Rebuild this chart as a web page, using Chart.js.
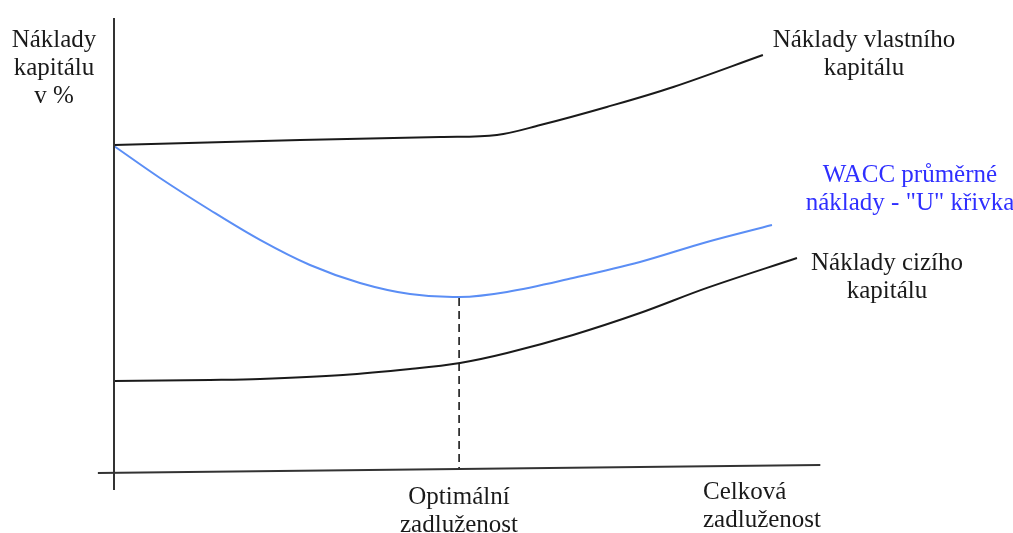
<!DOCTYPE html>
<html lang="cs">
<head>
<meta charset="utf-8">
<title>Náklady kapitálu a zadluženost</title>
<script src="https://cdn.jsdelivr.net/npm/chart.js@4/dist/chart.umd.min.js"></script>
<style>
  html, body { margin: 0; padding: 0; background: #ffffff; }
  #wrap { position: relative; width: 1013px; height: 533px; }
  canvas { display: block; }
</style>
</head>
<body>
<div id="wrap"><canvas id="chart" width="1013" height="533"></canvas></div>
<script>
// Zadluženost (x) a náklady kapitálu v % (y)
const equityDebt = [0, 26.6, 46.6, 54.7, 60.9, 70.4, 79.9, 92.7];
const equityCost = [20.31, 20.62, 20.81, 20.94, 21.56, 22.69, 23.94, 25.94];

const waccDebt = [0, 6.57, 13.71, 20.86, 28.0, 35.14, 42.29, 49.29, 56.14, 65.57, 75.14, 84.71, 94.0];
const waccCost = [20.25, 18.25, 16.25, 14.38, 12.81, 11.69, 11.0, 10.81, 11.13, 12.0, 13.0, 14.25, 15.31];

const debtDebt = [0, 13.71, 20.86, 32.71, 42.29, 49.43, 56.14, 65.57, 75.14, 84.71, 97.57];
const debtCost = [5.56, 5.63, 5.69, 5.94, 6.31, 6.69, 7.31, 8.44, 9.81, 11.38, 13.25];

// optimální zadluženost (minimum WACC)
const optimumDebt = 49.3;
const optimumCost = 10.75;

// osy grafu
const axisYDebt = [0, 0];
const axisYCost = [-1.25, 28.25];
const axisXDebt = [-2.3, 100.9];
const axisXCost = [-0.19, 0.31];

const toPoints = (xs, ys) => xs.map((x, i) => ({ x, y: ys[i] }));

const BLACK = '#1a1a1a';
const BLUE_LINE = '#5b8ef5';
const BLUE_TEXT = '#2f2fff';
const FONT = '25px "Liberation Serif", "Times New Roman", serif';
const LINE_H = 28;

const textBlocks = [
  { lines: ['Náklady', 'kapitálu', 'v %'], x: 54, y: 47, align: 'center', color: BLACK },
  { lines: ['Náklady vlastního', 'kapitálu'], x: 864, y: 47, align: 'center', color: BLACK },
  { lines: ['WACC průměrné', 'náklady - "U" křivka'], x: 910, y: 182, align: 'center', color: BLUE_TEXT },
  { lines: ['Náklady cizího', 'kapitálu'], x: 887, y: 270, align: 'center', color: BLACK },
  { lines: ['Optimální', 'zadluženost'], x: 459, y: 504, align: 'center', color: BLACK },
  { lines: ['Celková', 'zadluženost'], x: 703, y: 499, align: 'left', color: BLACK }
];

const textPlugin = {
  id: 'textBlocks',
  afterDraw(chart) {
    const ctx = chart.ctx;
    ctx.save();
    ctx.font = FONT;
    ctx.textBaseline = 'alphabetic';
    textBlocks.forEach(b => {
      ctx.fillStyle = b.color;
      ctx.textAlign = b.align;
      b.lines.forEach((t, i) => ctx.fillText(t, b.x, b.y + i * LINE_H));
    });
    ctx.restore();
  }
};

const lineDs = (data, color, width, extra) => Object.assign({
  data,
  borderColor: color,
  borderWidth: width,
  pointRadius: 0,
  pointHoverRadius: 0,
  fill: false,
  tension: 0,
  clip: false
}, extra || {});

new Chart(document.getElementById('chart'), {
  type: 'line',
  data: {
    datasets: [
      lineDs(toPoints(axisYDebt, axisYCost), '#333333', 2),
      lineDs(toPoints(axisXDebt, axisXCost), '#333333', 2),
      lineDs([{ x: optimumDebt, y: optimumCost }, { x: optimumDebt, y: 0.05 }], BLACK, 1.6, { borderDash: [8, 5] }),
      lineDs(toPoints(equityDebt, equityCost), BLACK, 2, { tension: 0.35 }),
      lineDs(toPoints(waccDebt, waccCost), BLUE_LINE, 2, { tension: 0.35 }),
      lineDs(toPoints(debtDebt, debtCost), BLACK, 2, { tension: 0.35 })
    ]
  },
  options: {
    responsive: false,
    animation: false,
    layout: { padding: 0 },
    plugins: { legend: { display: false }, tooltip: { enabled: false }, title: { display: false } },
    events: [],
    scales: {
      x: { type: 'linear', min: -114 / 7, max: (1013 - 114) / 7, display: false },
      y: { type: 'linear', min: (470 - 533) / 16, max: 470 / 16, display: false }
    }
  },
  plugins: [textPlugin]
});
</script>
</body>
</html>
